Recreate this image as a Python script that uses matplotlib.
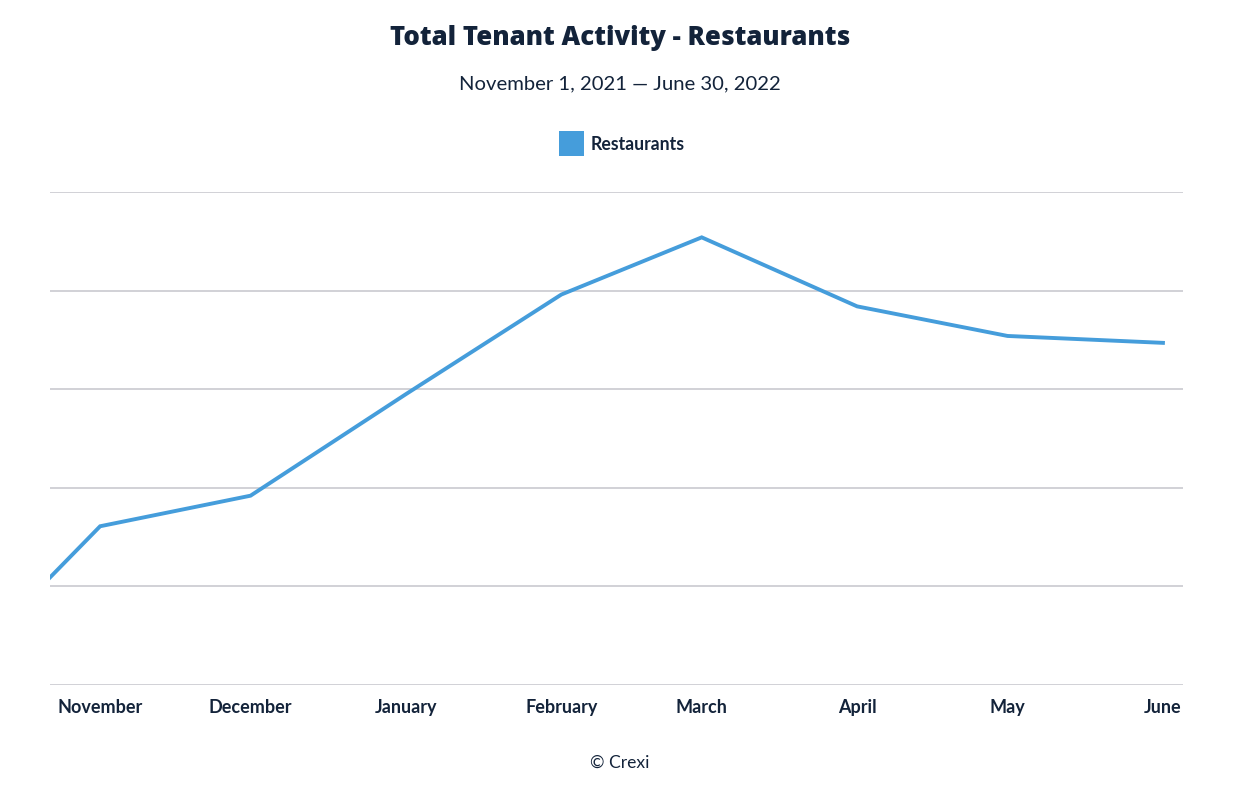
import matplotlib
matplotlib.use("Agg")
import matplotlib.pyplot as plt
from matplotlib.patches import Rectangle
import datetime as dt

# Data
dates = ["2021-10-01", "2021-11-01", "2021-12-01", "2022-01-01", "2022-02-01",
         "2022-03-01", "2022-04-01", "2022-05-01", "2022-06-01"]
values = [0, 161, 192, 295, 396, 454, 384, 354, 347]
tick_dates = dates[1:]
tick_labels = ["November", "December", "January", "February", "March", "April", "May", "June"]
series_name = "Restaurants"

navy = "#13233a"
blue = "#459ddb"
grid = "#c9c9cf"

plt.rcParams['font.family'] = ['Lato', 'DejaVu Sans']

fig = plt.figure(figsize=(12.4, 7.96), dpi=100)
ax = fig.add_axes([50/1240, 1-685/796, (1183-50)/1240, (685-192)/796])

x = [dt.datetime.strptime(d, "%Y-%m-%d") for d in dates]
ax.plot(x, values, color=blue, lw=2.8, solid_joinstyle='miter', clip_on=True)

ax.set_xlim(dt.datetime(2021, 10, 22, 0), dt.datetime(2022, 6, 5))
ax.set_ylim(0, 500)
ax.set_yticks([0, 100, 200, 300, 400, 500])
ax.set_yticklabels([])
ax.yaxis.grid(True, color=grid, lw=1.2)
ax.set_axisbelow(True)
ax.tick_params(axis='y', length=0)
ax.set_xticks([dt.datetime.strptime(d, "%Y-%m-%d") for d in tick_dates])
ax.set_xticklabels(tick_labels, fontsize=13, fontweight='bold', color=navy)
ax.tick_params(axis='x', length=0, pad=10)
for s in ax.spines.values():
    s.set_visible(False)

fig.text(0.5, 1-38/796, "Total Tenant Activity - Restaurants", ha='center', va='center',
         fontsize=18.5, fontweight=800, color=navy, family=['Open Sans', 'DejaVu Sans'])
fig.text(0.5, 1-84/796, "November 1, 2021 \u2014 June 30, 2022", ha='center', va='center',
         fontsize=14.6, color=navy)
fig.patches.append(Rectangle((559/1240, 1-156/796), 25/1240, 25/796, transform=fig.transFigure,
                             facecolor=blue, edgecolor='none'))
fig.text(591/1240, 1-144/796, series_name, ha='left', va='center', fontsize=12.7,
         fontweight='bold', color=navy)
fig.text(0.5, 1-763/796, "\u00a9 Crexi", ha='center', va='center', fontsize=12.6, color=navy)

fig.savefig("out.png", dpi=100, facecolor='white')
